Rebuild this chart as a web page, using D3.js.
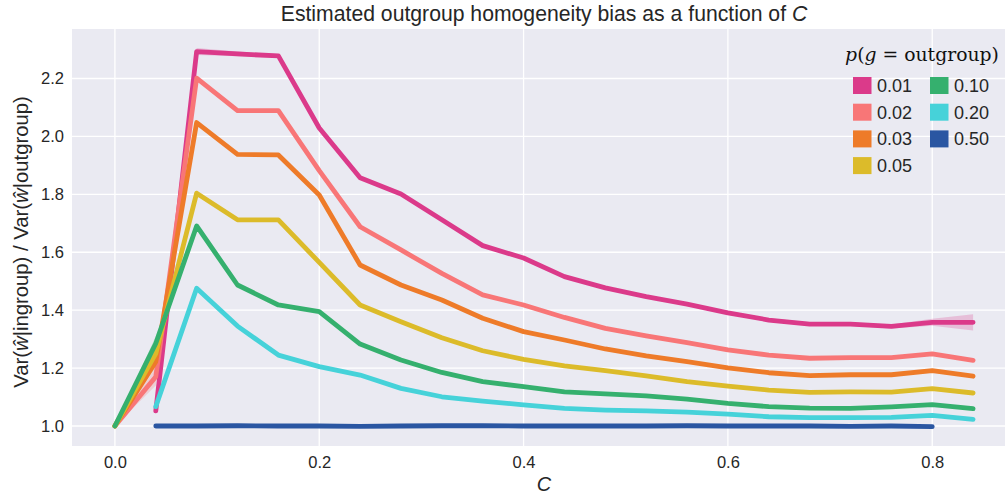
<!DOCTYPE html>
<html><head><meta charset="utf-8">
<script src="https://cdn.jsdelivr.net/npm/d3@7"></script>
<style>
html,body{margin:0;padding:0;background:#fff;}
svg{display:block;}
</style></head>
<body>
<svg id="chart" width="1005" height="495"></svg>
<script>
// ---- data ----
const Cvals = [0, 0.04, 0.08, 0.12, 0.16, 0.20, 0.24, 0.28, 0.32, 0.36, 0.40, 0.44, 0.48, 0.52, 0.56, 0.60, 0.64, 0.68, 0.72, 0.76, 0.80, 0.84];
const groups = ["0.01", "0.02", "0.03", "0.05", "0.10", "0.20", "0.50"];
const p001 = [null, 1.052, 2.293, 2.285, 2.278, 2.029, 1.857, 1.801, 1.712, 1.623, 1.580, 1.516, 1.477, 1.447, 1.421, 1.391, 1.366, 1.352, 1.352, 1.344, 1.358, 1.358];
const p002 = [1.0, 1.170, 2.201, 2.089, 2.089, 1.882, 1.688, 1.608, 1.527, 1.453, 1.418, 1.375, 1.337, 1.311, 1.288, 1.263, 1.245, 1.234, 1.236, 1.236, 1.249, 1.227];
const p003 = [1.0, 1.222, 2.048, 1.938, 1.936, 1.798, 1.556, 1.487, 1.435, 1.372, 1.326, 1.297, 1.266, 1.242, 1.222, 1.201, 1.184, 1.174, 1.177, 1.177, 1.191, 1.172];
const p005 = [1.0, 1.250, 1.804, 1.712, 1.712, 1.565, 1.418, 1.360, 1.305, 1.260, 1.230, 1.208, 1.191, 1.173, 1.153, 1.138, 1.124, 1.116, 1.118, 1.117, 1.129, 1.114];
const p010 = [1.0, 1.285, 1.691, 1.487, 1.418, 1.395, 1.283, 1.228, 1.185, 1.153, 1.136, 1.118, 1.111, 1.104, 1.093, 1.078, 1.067, 1.062, 1.061, 1.066, 1.074, 1.060];
const p020 = [null, 1.067, 1.476, 1.345, 1.245, 1.205, 1.176, 1.130, 1.101, 1.086, 1.073, 1.061, 1.055, 1.052, 1.048, 1.041, 1.032, 1.029, 1.029, 1.030, 1.037, 1.023];
const p050 = [null, 1.000, 1.000, 1.001, 1.000, 1.000, 0.999, 1.000, 1.001, 1.001, 1.000, 1.000, 1.000, 1.000, 1.001, 1.000, 1.000, 1.000, 0.999, 1.000, 0.998, null];
// confidence-band half widths
const ci001 = [null, 0.010, 0.012, 0.008, 0.006, 0.008, 0.006, 0.005, 0.005, 0.005, 0.005, 0.005, 0.005, 0.005, 0.005, 0.005, 0.006, 0.006, 0.006, 0.007, 0.012, 0.028];
const ci002 = [0, 0.030, 0.008, 0.006, 0.006, 0.008, 0.005, 0.004, 0.004, 0.004, 0.004, 0.004, 0.004, 0.004, 0.004, 0.004, 0.004, 0.004, 0.004, 0.004, 0.005, 0.005];
const ci003 = [0, 0.020, 0.006, 0.005, 0.005, 0.008, 0.004, 0.004, 0.004, 0.004, 0.004, 0.003, 0.003, 0.003, 0.003, 0.003, 0.003, 0.003, 0.003, 0.003, 0.004, 0.004];
const ci005 = [0, 0.020, 0.005, 0.004, 0.004, 0.004, 0.004, 0.003, 0.003, 0.003, 0.003, 0.003, 0.003, 0.003, 0.003, 0.003, 0.003, 0.003, 0.003, 0.003, 0.003, 0.003];
const ci010 = [0, 0.025, 0.005, 0.004, 0.004, 0.004, 0.003, 0.003, 0.003, 0.003, 0.003, 0.003, 0.003, 0.003, 0.003, 0.003, 0.003, 0.003, 0.003, 0.003, 0.003, 0.003];
const ci020 = [null, 0.006, 0.004, 0.003, 0.003, 0.003, 0.003, 0.003, 0.003, 0.003, 0.003, 0.003, 0.003, 0.003, 0.003, 0.003, 0.003, 0.003, 0.003, 0.003, 0.003, 0.003];
const ci050 = [null, 0.002, 0.002, 0.002, 0.002, 0.002, 0.002, 0.002, 0.002, 0.002, 0.002, 0.002, 0.002, 0.002, 0.002, 0.002, 0.002, 0.002, 0.002, 0.002, 0.003, null];
const colors = ["#db3a8a", "#f87677", "#ee7b29", "#dcbb2a", "#35b06e", "#46d2d9", "#2a56a2"];
const xTicks = [0.0, 0.2, 0.4, 0.6, 0.8];
const yTicks = [1.0, 1.2, 1.4, 1.6, 1.8, 2.0, 2.2];

const seriesVals = [p001, p002, p003, p005, p010, p020, p050];
const seriesCI = [ci001, ci002, ci003, ci005, ci010, ci020, ci050];

// ---- layout ----
const svg = d3.select("#chart");
const M = {left: 72, right: 1016, top: 29, bottom: 446};
const x = d3.scaleLinear().domain([-0.042, 0.882]).range([M.left, M.right]);
const y = d3.scaleLinear().domain([0.931, 2.371]).range([M.bottom, M.top]);
const FONT = "'Liberation Sans', Arial, sans-serif";
const TXT = "#262626";

svg.append("rect").attr("x", M.left).attr("y", M.top)
  .attr("width", M.right - M.left).attr("height", M.bottom - M.top)
  .attr("fill", "#eaeaf2");

const grid = svg.append("g");
grid.selectAll("line.v").data(xTicks).join("line")
  .attr("x1", d => x(d)).attr("x2", d => x(d)).attr("y1", M.top).attr("y2", M.bottom)
  .attr("stroke", "#fff").attr("stroke-width", 1.3);
grid.selectAll("line.h").data(yTicks).join("line")
  .attr("x1", M.left).attr("x2", M.right).attr("y1", d => y(d)).attr("y2", d => y(d))
  .attr("stroke", "#fff").attr("stroke-width", 1.3);

// axes
const xAxis = svg.append("g").attr("transform", `translate(0,${M.bottom})`)
  .call(d3.axisBottom(x).tickValues(xTicks).tickFormat(d3.format(".1f")).tickSize(0).tickPadding(10));
const yAxis = svg.append("g").attr("transform", `translate(${M.left},0)`)
  .call(d3.axisLeft(y).tickValues(yTicks).tickFormat(d3.format(".1f")).tickSize(0).tickPadding(8));
[xAxis, yAxis].forEach(a => {
  a.select(".domain").remove();
  a.selectAll("text").attr("font-family", FONT).attr("font-size", 16.5).attr("fill", TXT);
});

// clip
svg.append("clipPath").attr("id", "clip").append("rect")
  .attr("x", M.left).attr("y", M.top).attr("width", M.right - M.left).attr("height", M.bottom - M.top);
const plot = svg.append("g").attr("clip-path", "url(#clip)");

const line = d3.line().defined(d => d.v != null).x(d => x(d.c)).y(d => y(d.v));
const area = d3.area().defined(d => d.v != null && d.e != null)
  .x(d => x(d.c)).y0(d => y(d.v - d.e)).y1(d => y(d.v + d.e));

groups.forEach((g, i) => {
  const pts = Cvals.map((c, j) => ({c, v: seriesVals[i][j], e: seriesCI[i][j]}));
  plot.append("path").datum(pts).attr("d", area)
    .attr("fill", colors[i]).attr("fill-opacity", 0.25).attr("stroke", "none");
});
groups.forEach((g, i) => {
  const pts = Cvals.map((c, j) => ({c, v: seriesVals[i][j]}));
  plot.append("path").datum(pts).attr("d", line)
    .attr("fill", "none").attr("stroke", colors[i]).attr("stroke-width", 4.8)
    .attr("stroke-linecap", "round").attr("stroke-linejoin", "round");
});

// title
svg.append("text").attr("x", (M.left + M.right) / 2).attr("y", 21)
  .attr("text-anchor", "middle").attr("font-family", FONT).attr("font-size", 21.2).attr("fill", TXT)
  .call(t => {
    t.append("tspan").text("Estimated outgroup homogeneity bias as a function of ");
    t.append("tspan").attr("font-style", "italic").text("C");
  });

// x label
svg.append("text").attr("x", (M.left + M.right) / 2).attr("y", 491)
  .attr("text-anchor", "middle").attr("font-family", FONT).attr("font-size", 20)
  .attr("font-style", "italic").attr("fill", TXT).text("C");

// y label
svg.append("text").attr("transform", "translate(28,242) rotate(-90)")
  .attr("text-anchor", "middle").attr("font-family", FONT).attr("font-size", 20.3).attr("fill", TXT)
  .call(t => {
    t.append("tspan").text("Var(");
    t.append("tspan").attr("font-style", "italic").text("\u0175");
    t.append("tspan").text("|ingroup) / Var(");
    t.append("tspan").attr("font-style", "italic").text("\u0175");
    t.append("tspan").text("|outgroup)");
  });

// legend
const SERIF = "'DejaVu Serif', 'Liberation Serif', serif";
svg.append("text").attr("x", 922).attr("y", 61).attr("text-anchor", "middle")
  .attr("font-family", SERIF).attr("font-size", 18.8).attr("fill", "#111")
  .call(t => {
    t.append("tspan").attr("font-style", "italic").text("p");
    t.append("tspan").text("(");
    t.append("tspan").attr("font-style", "italic").text("g");
    t.append("tspan").text(" = outgroup)");
  });
const leg = svg.append("g");
groups.forEach((g, i) => {
  const col = i < 4 ? 0 : 1;
  const row = i < 4 ? i : i - 4;
  const lx = 853 + col * 77;
  const ly = 77 + row * 26.7;
  leg.append("rect").attr("x", lx).attr("y", ly).attr("width", 18.5).attr("height", 17)
    .attr("fill", colors[i]);
  leg.append("text").attr("x", lx + 24).attr("y", ly + 15)
    .attr("font-family", FONT).attr("font-size", 18).attr("fill", TXT).text(g);
});
</script>
</body></html>
